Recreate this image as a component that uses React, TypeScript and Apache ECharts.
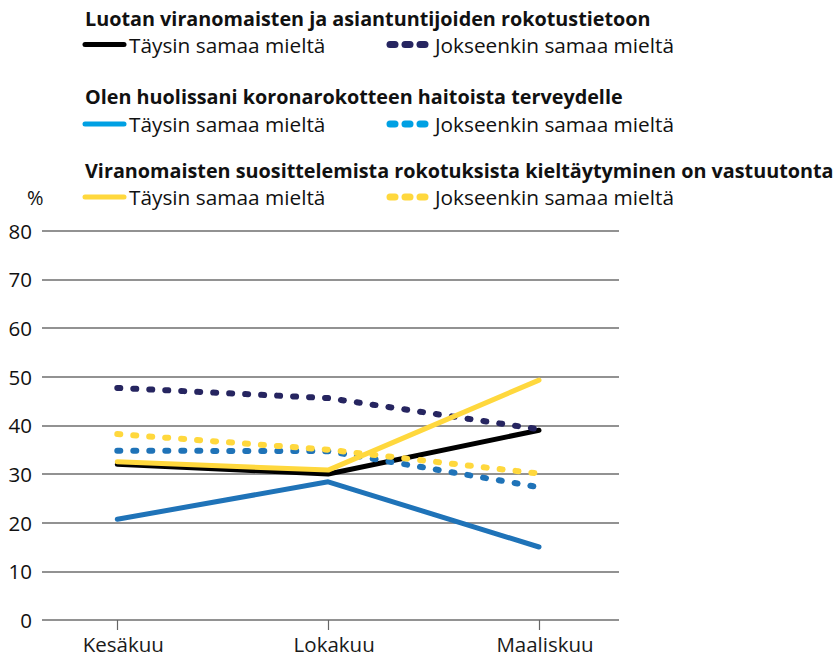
import React, { useEffect, useRef } from "react";
import * as echarts from "echarts";

const categories = ["Kesäkuu", "Lokakuu", "Maaliskuu"];
const yTicks = [0, 10, 20, 30, 40, 50, 60, 70, 80];

const luotanTaysin = [32, 30, 39];
const luotanJokseenkin = [47.7, 45.6, 39.2];
const huolissaniTaysin = [20.7, 28.4, 15];
const huolissaniJokseenkin = [34.8, 34.7, 27.3];
const vastuutontaTaysin = [32.5, 30.8, 49.3];
const vastuutontaJokseenkin = [38.2, 35, 30.1];

const groupTitles = [
  "Luotan viranomaisten ja asiantuntijoiden rokotustietoon",
  "Olen huolissani koronarokotteen haitoista terveydelle",
  "Viranomaisten suosittelemista rokotuksista kieltäytyminen on vastuutonta",
];
const legendLabels = ["Täysin samaa mieltä", "Jokseenkin samaa mieltä"];

const FONT = "'Open Sans', 'Noto Sans', sans-serif";
const NAVY = "#262560";
const BLUE = "#1f73b8";
const LEGEND_BLUE = "#00a0e3";
const YELLOW = "#ffd83d";

export default function App() {
  const ref = useRef<HTMLDivElement>(null);
  useEffect(() => {
    if (!ref.current) return;
    const chart = echarts.init(ref.current, undefined, { renderer: "svg" });

    const solid = (name: string, data: number[], color: string, z: number) => ({
      name,
      type: "line",
      xAxisIndex: 1,
      yAxisIndex: 1,
      data,
      symbol: "none",
      z,
      lineStyle: { color, width: 5, cap: "round", join: "round" },
    });
    const dotted = (name: string, data: number[], color: string, z: number) => ({
      name,
      type: "line",
      xAxisIndex: 1,
      yAxisIndex: 1,
      data,
      symbol: "none",
      z,
      lineStyle: { color, width: 6, cap: "round", join: "round", type: [3, 13] },
    });

    const legendColors = [
      ["#000000", NAVY],
      [LEGEND_BLUE, LEGEND_BLUE],
      [YELLOW, YELLOW],
    ];
    const titleY = [18, 96, 170];
    const legendY = [44.5, 124, 197];
    const graphics: any[] = [];
    groupTitles.forEach((t, i) => {
      graphics.push({
        type: "text",
        x: 85,
        y: titleY[i],
        style: { text: t, font: `bold 19.8px ${FONT}`, fill: "#111", verticalAlign: "middle" },
      });
      const ly = legendY[i];
      graphics.push({
        type: "line",
        shape: { x1: 85, y1: ly, x2: 124, y2: ly },
        style: { stroke: legendColors[i][0], lineWidth: 5, lineCap: "round" },
      });
      [390, 405, 420].forEach((cx) => {
        graphics.push({
          type: "line",
          shape: { x1: cx, y1: ly, x2: cx + 5, y2: ly },
          style: { stroke: legendColors[i][1], lineWidth: 7, lineCap: "round" },
        });
      });
      graphics.push({
        type: "text",
        x: 129,
        y: ly,
        style: { text: legendLabels[0], font: `20.8px ${FONT}`, fill: "#111", verticalAlign: "middle" },
      });
      graphics.push({
        type: "text",
        x: 435,
        y: ly,
        style: { text: legendLabels[1], font: `20.8px ${FONT}`, fill: "#111", verticalAlign: "middle" },
      });
    });
    graphics.push({
      type: "text",
      x: 27,
      y: 197,
      style: { text: "%", font: `20px ${FONT}`, fill: "#111", verticalAlign: "middle" },
    });

    chart.setOption({
      animation: false,
      graphic: graphics,
      grid: [
        { left: 42, right: 218, top: 230.7, bottom: 38 },
        { left: 117.3, right: 298, top: 230.7, bottom: 38 },
      ],
      xAxis: [
        {
          type: "category",
          gridIndex: 0,
          data: categories,
          show: false,
        },
        {
          type: "category",
          gridIndex: 1,
          data: categories,
          boundaryGap: false,
          axisLine: { show: false },
          axisTick: { show: true, length: 10, lineStyle: { color: "#666", width: 1.2 } },
          axisLabel: {
            fontFamily: FONT,
            fontSize: 20.5,
            color: "#1a1a1a",
            margin: 13,
            padding: [0, 0, 0, 12],
          },
        },
      ],
      yAxis: [
        {
          type: "value",
          gridIndex: 0,
          min: yTicks[0],
          max: yTicks[yTicks.length - 1],
          interval: 10,
          axisLine: { show: false },
          axisTick: { show: false },
          axisLabel: { fontFamily: FONT, fontSize: 20.5, color: "#111", margin: 10 },
          splitLine: { show: true, lineStyle: { color: "#6e6e6e", width: 1.5 } },
        },
        {
          type: "value",
          gridIndex: 1,
          min: yTicks[0],
          max: yTicks[yTicks.length - 1],
          interval: 10,
          show: false,
          splitLine: { show: false },
        },
      ],
      series: [
        solid("Huolissani täysin", huolissaniTaysin, BLUE, 2),
        solid("Luotan täysin", luotanTaysin, "#000000", 3),
        dotted("Huolissani jokseenkin", huolissaniJokseenkin, BLUE, 4),
        dotted("Luotan jokseenkin", luotanJokseenkin, NAVY, 5),
        dotted("Vastuutonta jokseenkin", vastuutontaJokseenkin, YELLOW, 6),
        solid("Vastuutonta täysin", vastuutontaTaysin, YELLOW, 7),
      ],
    });
    return () => chart.dispose();
  }, []);
  return (
    <div
      ref={ref}
      style={{ position: "absolute", left: 0, top: 0, width: 837, height: 658, background: "#fff" }}
    />
  );
}
